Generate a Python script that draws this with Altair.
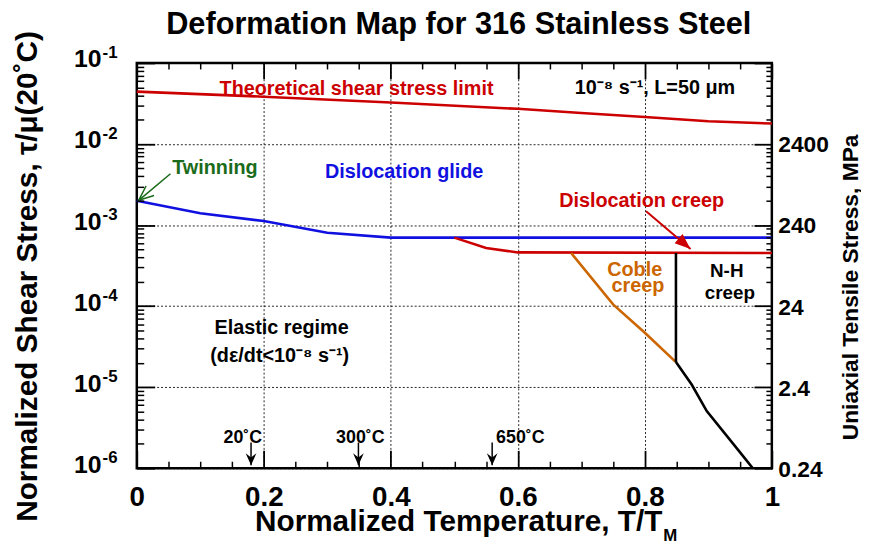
import altair as alt
import pandas as pd

FONT = "Liberation Sans"

# ---------------- data ----------------
theory_x = [0.0, 0.2, 0.4, 0.6, 0.7, 0.8, 0.9, 1.0]
theory_y = [0.0443, 0.0384, 0.0325, 0.0272, 0.0241, 0.0216, 0.0191, 0.0179]

glide_x = [0.0, 0.1, 0.2, 0.3, 0.4, 1.0]
glide_y = [0.0020, 0.0014, 0.00112, 0.000805, 0.0007, 0.0007]

creep_x = [0.5, 0.55, 0.6, 1.0]
creep_y = [0.0007, 0.00052, 0.00046, 0.000452]

coble_x = [0.684, 0.75, 0.80, 0.849]
coble_y = [0.000452, 0.000105, 0.000047, 0.0000204]

nhv_x = [0.849, 0.849]
nhv_y = [0.0000204, 0.000452]

nh_x = [0.849, 0.874, 0.8975, 0.95, 0.97]
nh_y = [0.0000204, 0.0000107, 0.00000506, 0.00000157, 0.000001]

# annotations
ann_text = ["Theoretical shear stress limit", "10⁻⁸ s⁻¹, L=50 μm", "Twinning",
            "Dislocation glide", "Dislocation creep", "Coble", "creep",
            "Elastic regime", "(dε/dt<10⁻⁸ s⁻¹)"]
ann_x = [0.346, 0.816, 0.123, 0.421, 0.795, 0.784, 0.789, 0.228, 0.225]
ann_y = [0.0407, 0.0418, 0.0043, 0.00385, 0.00166, 0.000232, 0.000148, 4.56e-5, 2.07e-5]
ann_kind = ["theory", "plain", "twin", "glide", "creep", "coble", "coble", "plain", "plain"]

nh_text = ["N-H", "creep"]
nh_tx = [0.929, 0.934]
nh_ty = [0.000226, 0.000122]

temp_text = ["20˚C", "300˚C", "650˚C"]
temp_tx = [0.167, 0.352, 0.604]
temp_ty = [2.07e-6, 2.07e-6, 2.07e-6]
temp_ax = [0.1799, 0.349, 0.5596]
temp_ay0 = [2.07e-6, 2.07e-6, 2.07e-6]
temp_ay1 = [1.09e-6, 1.09e-6, 1.09e-6]

twin_arrow = {"x": [0.053], "y": [0.0043], "x2": [0.003], "y2": [0.00202]}
creep_arrow = {"x": [0.802], "y": [0.00148], "x2": [0.872], "y2": [0.000506]}

# axes ticks / labels
x_ticks = [0.0, 0.2, 0.4, 0.6, 0.8, 1.0]
x_labels = ["0", "0.2", "0.4", "0.6", "0.8", "1"]
x_minor = [0.05, 0.1, 0.15, 0.25, 0.3, 0.35, 0.45, 0.5, 0.55, 0.65, 0.7, 0.75,
           0.85, 0.9, 0.95]
y_decades = [1e-6, 1e-5, 1e-4, 1e-3, 1e-2, 1e-1]
y_exp_labels = ["-6", "-5", "-4", "-3", "-2", "-1"]
y_minor = [k * 10.0 ** e for e in range(-6, -1) for k in range(2, 10)]
mpa_values = [1e-6, 1e-5, 1e-4, 1e-3, 1e-2]
mpa_labels = ["0.24", "2.4", "24", "240", "2400"]

series_names = ["theory", "glide", "creep", "coble", "nh", "twin", "plain"]
series_colors = ["#cc0000", "#1010e0", "#cc0000", "#cc6600", "#000000", "#1a6b1a", "#000000"]

TITLE = "Deformation Map for 316 Stainless Steel"

# ---------------- tables ----------------
rows = []
for name, seg, xs_, ys_ in [("theory", "theory", theory_x, theory_y),
                            ("glide", "glide", glide_x, glide_y),
                            ("creep", "creep", creep_x, creep_y),
                            ("coble", "coble", coble_x, coble_y),
                            ("nh", "nhv", nhv_x, nhv_y),
                            ("nh", "nhb", nh_x, nh_y)]:
    for i, (a, b) in enumerate(zip(xs_, ys_)):
        rows.append({"series": name, "seg": seg, "order": i, "x": a, "y": b})
lines_df = pd.DataFrame(rows)

ann_df = pd.DataFrame({"label": ann_text, "x": ann_x, "y": ann_y, "series": ann_kind})
nh_df = pd.DataFrame({"label": nh_text, "x": nh_tx, "y": nh_ty})
temp_df = pd.DataFrame({"label": temp_text, "x": temp_tx, "y": temp_ty})
temp_ar = pd.DataFrame({"x": temp_ax, "y": temp_ay0, "x2": temp_ax, "y2": temp_ay1})
twin_df = pd.DataFrame(twin_arrow)
creepar_df = pd.DataFrame(creep_arrow)
frame_df = pd.DataFrame({"x": [0.0, 1.0], "y": [1e-6, 1e-1]})


def xs():
    return alt.Scale(domain=[0, 1], nice=False, zero=False)


def ys():
    return alt.Scale(type="log", domain=[1e-6, 1e-1], nice=False)


def cscale():
    return alt.Scale(domain=series_names, range=series_colors)


def label_expr(values, labels):
    vals = ",".join(repr(float(v)) for v in values)
    labs = ",".join("'" + s + "'" for s in labels)
    return f"[{labs}][indexof([{vals}], datum.value)]"


def tick_axis(orient, values, size, width):
    return alt.Axis(orient=orient, values=values, offset=-size, tickSize=size,
                    tickWidth=width, tickColor="black", labels=False, domain=False,
                    grid=False, title=None, zindex=1)


def dummy(x_axis, y_axis):
    return alt.Chart(frame_df).mark_point(opacity=0).encode(
        x=alt.X("x:Q", scale=xs(), axis=x_axis),
        y=alt.Y("y:Q", scale=ys(), axis=y_axis),
    )


# main lines with main axes
lines = alt.Chart(lines_df).mark_line(strokeWidth=2.6).encode(
    x=alt.X("x:Q", scale=xs(), axis=alt.Axis(
        orient="bottom", values=x_ticks, labelExpr=label_expr(x_ticks, x_labels),
        grid=True, gridDash=[2, 2], gridColor="black", gridWidth=1, gridOpacity=0.85,
        ticks=False, tickSize=0, domain=False, labelFontSize=28, labelPadding=16,
        labelFlush=False, labelOverlap=False, zindex=0,
        title="Normalized Temperature, T/T", titleFontSize=30, titleAlign="right",
        titleX=530, titleY=63, titleBaseline="alphabetic")),
    y=alt.Y("y:Q", scale=ys(), axis=alt.Axis(
        orient="left", values=y_decades, labelExpr="'10'",
        grid=True, gridDash=[2, 2], gridColor="black", gridWidth=1, gridOpacity=0.85,
        ticks=False, tickSize=0, domain=False, labelFontSize=25, labelPadding=36,
        labelOffset=-4, labelFlush=False, labelOverlap=False, zindex=0,
        title="Normalized Shear Stress, τ/μ(20˚C)", titleFontSize=30, titleAngle=270,
        titleX=-101, titleY=215, titleBaseline="alphabetic", titleAlign="center")),
    color=alt.Color("series:N", scale=cscale(), legend=None),
    detail="seg:N",
    order="order:Q",
)

exp_layer = dummy(
    alt.Axis(orient="bottom", labels=False, ticks=False, domain=False, grid=False,
             title="M", titleFontSize=17, titleAlign="left", titleX=531, titleY=73,
             titleBaseline="alphabetic"),
    alt.Axis(orient="left", values=y_decades, labelExpr=label_expr(y_decades, y_exp_labels),
             ticks=False, tickSize=0, domain=False, grid=False, labelPadding=35,
             labelAlign="left", labelFontSize=17, labelOffset=-11, labelFlush=False,
             labelOverlap=False, title=None),
)

title_layer = dummy(
    alt.Axis(orient="top", labels=False, ticks=False, domain=False, grid=False,
             title=TITLE, titleFontSize=31, titleAlign="center", titleX=324.5,
             titleY=-30, titleBaseline="alphabetic"),
    None,
)

right_layer = dummy(
    None,
    alt.Axis(orient="right", values=mpa_values, labelExpr=label_expr(mpa_values, mpa_labels),
             ticks=False, tickSize=0, domain=False, grid=False, labelPadding=6,
             labelAlign="left", labelFontSize=23, labelOffset=1, labelFlush=False,
             labelOverlap=False, title="Uniaxial Tensile Stress, MPa", titleFontSize=23,
             titleAngle=270, titleX=86, titleY=226, titleBaseline="alphabetic",
             titleAlign="center"),
)

t_major_bl = dummy(tick_axis("bottom", x_ticks, 18, 1.8), tick_axis("left", y_decades, 18, 1.8))
t_minor_bl = dummy(tick_axis("bottom", x_minor, 7, 1.5), tick_axis("left", y_minor, 7, 1.5))
t_major_tr = dummy(tick_axis("top", x_ticks, 16, 1.8), tick_axis("right", y_decades, 18, 1.8))
t_minor_tr = dummy(tick_axis("top", x_minor, 6, 1.5), tick_axis("right", y_minor, 6, 1.5))


def pos(df_x="x", df_y="y"):
    return dict(x=alt.X(f"{df_x}:Q", scale=xs(), axis=None),
                y=alt.Y(f"{df_y}:Q", scale=ys(), axis=None))


ann = alt.Chart(ann_df).mark_text(font=FONT, fontWeight="bold", fontSize=20,
                                  baseline="alphabetic", align="center").encode(
    **pos(), text="label:N",
    color=alt.Color("series:N", scale=cscale(), legend=None))
nh_txt = alt.Chart(nh_df).mark_text(font=FONT, fontWeight="bold", fontSize=19,
                                    baseline="alphabetic", align="center",
                                    color="black").encode(**pos(), text="label:N")
temp_txt = alt.Chart(temp_df).mark_text(font=FONT, fontWeight="bold", fontSize=18,
                                        baseline="alphabetic", align="center",
                                        color="black").encode(**pos(), text="label:N")

ARROW_FILLED = "M0,0L-0.38,1L0.38,1Z"
ARROW_NOTCH = "M0,0L-0.45,1L0,0.65L0.45,1Z"
ARROW_OPEN = "M-0.42,1L0,0L0.42,1"


def arrow(df, color, shape, size, angle, filled, sw):
    shaft = alt.Chart(df).mark_rule(color=color, strokeWidth=sw).encode(
        x=alt.X("x:Q", scale=xs(), axis=None), y=alt.Y("y:Q", scale=ys(), axis=None),
        x2="x2:Q", y2="y2:Q")
    head = alt.Chart(df).mark_point(shape=shape, size=size, filled=filled, opacity=1,
                                    color=color, strokeWidth=sw).encode(
        x=alt.X("x2:Q", scale=xs(), axis=None), y=alt.Y("y2:Q", scale=ys(), axis=None),
        angle=alt.value(angle))
    return [shaft, head]


layers = [t_minor_bl, t_major_bl, t_minor_tr, t_major_tr, exp_layer, title_layer,
          right_layer, lines]
layers += arrow(temp_ar, "black", ARROW_NOTCH, 576, 180, True, 1.5)
layers += arrow(twin_df, "#1a6b1a", ARROW_OPEN, 900, 230, False, 1.5)
layers += arrow(creepar_df, "#cc0000", ARROW_FILLED, 1024, 131, True, 2)
layers += [ann, nh_txt, temp_txt]

chart = alt.layer(*layers).resolve_scale(
    x="independent", y="independent"
).properties(
    width=641, height=409,
    autosize=alt.AutoSizeParams(type="none"),
    padding={"left": 130, "top": 53, "right": 90, "bottom": 74},
).configure_view(
    stroke="black", strokeWidth=2.5
).configure_axis(
    labelFont=FONT, titleFont=FONT, labelFontWeight="bold", titleFontWeight="bold",
    labelColor="black", titleColor="black"
)

chart.save("out.html", embed_options={"renderer": "svg", "actions": False})
